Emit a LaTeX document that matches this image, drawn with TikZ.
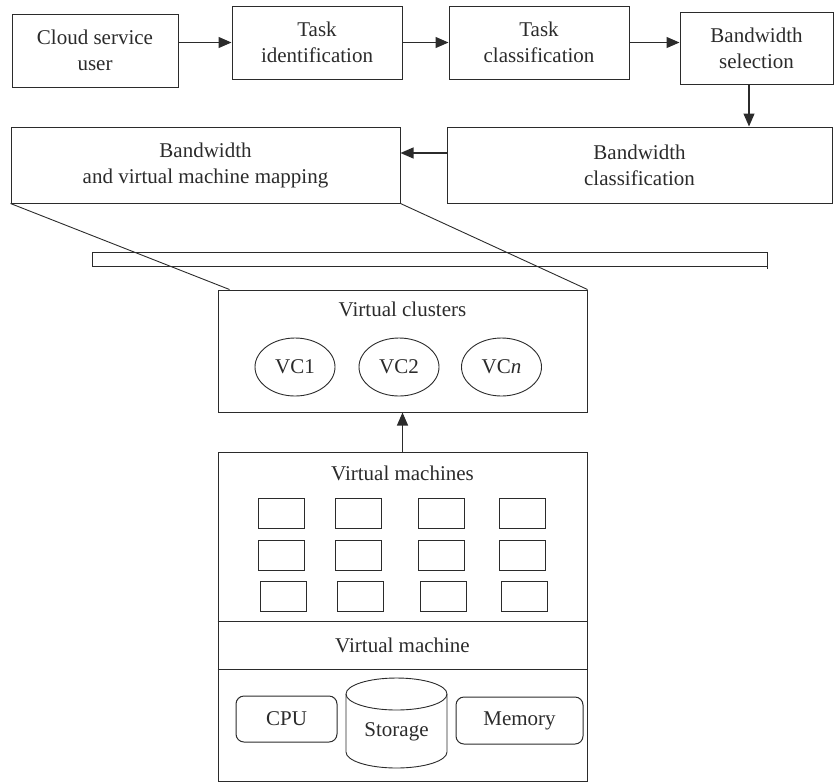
\documentclass[tikz,border=0pt]{standalone}
\usepackage{fontspec}
\setmainfont{Liberation Serif}
\usetikzlibrary{arrows.meta,shapes.geometric,calc}
\definecolor{ink}{HTML}{2B2B2B}
\begin{document}
\begin{tikzpicture}[x=1pt,y=-1pt,
  every node/.style={font=\fontsize{21}{26}\selectfont, text=ink},
  box/.style={draw=ink, line width=1pt, align=center, inner sep=0pt},
  arr/.style={draw=ink, line width=1.2pt, -{Triangle[length=13pt,width=11pt]}},
  ln/.style={draw=ink, line width=0.9pt},
  vmcell/.style={draw=ink, line width=1pt, minimum width=46pt, minimum height=30pt, inner sep=0pt},
  vcell/.style={draw=ink, line width=0.9pt, ellipse, minimum width=80pt, minimum height=58pt, inner sep=0pt},
  rbox/.style={draw=ink, line width=1pt, rounded corners=8pt, inner sep=0pt}
]
\useasboundingbox (0,0) rectangle (834,782);

% top row
\node[box, minimum width=166pt, minimum height=73pt] (csu) at (95,50.5) {Cloud service\\user};
\node[box, minimum width=170pt, minimum height=73pt] (ti) at (317,42.5) {Task\\identification};
\node[box, minimum width=180pt, minimum height=73pt] (tc) at (539,42.5) {Task\\classification};
\node[box, minimum width=153pt, minimum height=72pt] (bs) at (756.5,48) {Bandwidth\\selection};
% second row
\node[box, minimum width=389pt, minimum height=76pt] (bvm) at (205.5,165) {Bandwidth\\and virtual machine mapping};
\node[box, minimum width=385pt, minimum height=76pt] (bc) at (639.5,165) {Bandwidth\\classification};

% bar
\node[box, minimum width=675pt, minimum height=14pt] (bar) at (429.5,259) {};
\draw[draw=ink, line width=1.6pt] ([yshift=-1pt]bar.north east) -- ([yshift=-2pt]bar.south east);

% virtual clusters
\node[box, minimum width=369pt, minimum height=122pt] (vcb) at (402.5,351) {};
\node (vct) at (402.5,309) {Virtual clusters};
\node[vcell] (vc1) at (295,367) {VC1};
\node[vcell] (vc2) at (399,367) {VC2};
\node[vcell] (vcn) at (501.5,367) {VC\textit{n}};

% projection lines
\draw[ln] (bvm.south west) -- ([xshift=12pt]vcb.north west);
\draw[ln] (bvm.south east) -- (vcb.north east);

% virtual machines
\node[box, minimum width=369pt, minimum height=329pt] (vmb) at (402.5,617) {};
\node (vmt) at (402.5,473) {Virtual machines};
\node[vmcell] (m11) at (281,513) {};
\node[vmcell] (m12) at (358,513) {};
\node[vmcell] (m13) at (441,513) {};
\node[vmcell] (m14) at (522,513) {};
\node[vmcell] (m21) at (281,555) {};
\node[vmcell] (m22) at (358,555) {};
\node[vmcell] (m23) at (441,555) {};
\node[vmcell] (m24) at (522,555) {};
\node[vmcell] (m31) at (283,596.5) {};
\node[vmcell] (m32) at (360,596.5) {};
\node[vmcell] (m33) at (443,596.5) {};
\node[vmcell] (m34) at (524,596.5) {};
\draw[ln] (vmb.west |- 0,621) -- (vmb.east |- 0,621);
\node (vmo) at (402.5,645) {Virtual machine};
\draw[ln] (vmb.west |- 0,669) -- (vmb.east |- 0,669);

% hardware
\node[rbox, minimum width=101pt, minimum height=46pt] (cpu) at (286.5,719) {CPU};
\node[rbox, minimum width=127pt, minimum height=47pt] (mem) at (519.5,720.5) {Memory};
\draw[ln, fill=white] (396.5,694) ellipse [x radius=50.5pt, y radius=16pt];
\draw[ln] (346,694) -- (346,752) arc[start angle=180, end angle=360, x radius=50.5pt, y radius=16pt] -- (447,694);
\node (sto) at (396.5,732) {Storage};

% arrows
\draw[arr] (csu.east |- ti.west) -- (ti.west);
\draw[arr] (ti.east) -- (tc.west);
\draw[arr] (tc.east) -- (bs.west |- tc.east);
\draw[arr] ([xshift=-7.5pt]bs.south) -- ([xshift=-7.5pt]bs.south |- bc.north);
\draw[arr] ([yshift=12pt]bc.west) -- ([yshift=12pt]bvm.east);
\draw[arr] (vmb.north) -- (vmb.north |- vcb.south);
\end{tikzpicture}
\end{document}
